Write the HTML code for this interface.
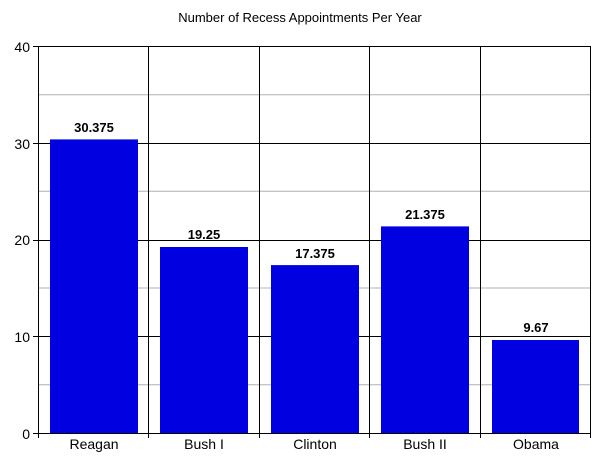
<!DOCTYPE html>
<html><head><style>body{margin:0;background:#fff}svg{display:block}</style></head><body>
<svg width="600" height="463" xmlns="http://www.w3.org/2000/svg" font-family="Liberation Sans, Arial, sans-serif">
<text x="300" y="22" font-size="13" text-anchor="middle">Number of Recess Appointments Per Year</text>
<g stroke="#b0b0b0" stroke-width="1">
<line x1="38.5" x2="590" y1="384.7" y2="384.7"/><line x1="38.5" x2="590" y1="288" y2="288"/>
<line x1="38.5" x2="590" y1="191.3" y2="191.3"/><line x1="38.5" x2="590" y1="94.7" y2="94.7"/>
</g>
<g stroke="#000" stroke-width="1">
<line x1="33" x2="590" y1="46.5" y2="46.5"/><line x1="33" x2="590" y1="143.5" y2="143.5"/>
<line x1="33" x2="590" y1="240.5" y2="240.5"/><line x1="33" x2="590" y1="336.5" y2="336.5"/>
<line x1="33" x2="590" y1="433.5" y2="433.5"/>
<line x1="38.5" x2="38.5" y1="46" y2="438"/>
<line x1="148.5" x2="148.5" y1="46" y2="438"/><line x1="259.5" x2="259.5" y1="46" y2="438"/>
<line x1="369.5" x2="369.5" y1="46" y2="438"/><line x1="480.5" x2="480.5" y1="46" y2="438"/>
<line x1="590.5" x2="590.5" y1="46" y2="438"/>
</g>
<g fill="#0000e0">
<rect x="50" y="139.4" width="88" height="293.6"/>
<rect x="160" y="247" width="88" height="186"/>
<rect x="271" y="265.1" width="88" height="167.9"/>
<rect x="381" y="226.4" width="88" height="206.6"/>
<rect x="492" y="340" width="87" height="93"/>
</g>
<g font-size="13" font-weight="bold" text-anchor="middle">
<text x="94" y="132">30.375</text><text x="204" y="239">19.25</text>
<text x="315" y="258">17.375</text><text x="425" y="219">21.375</text>
<text x="536" y="332">9.67</text>
</g>
<g font-size="14" text-anchor="end">
<text x="30" y="52">40</text><text x="30" y="149">30</text><text x="30" y="245">20</text>
<text x="30" y="342">10</text><text x="30" y="439">0</text>
</g>
<g font-size="14" text-anchor="middle">
<text x="94" y="449">Reagan</text><text x="204" y="449">Bush I</text><text x="315" y="449">Clinton</text>
<text x="425" y="449">Bush II</text><text x="536" y="449">Obama</text>
</g>
</svg>
</body></html>
